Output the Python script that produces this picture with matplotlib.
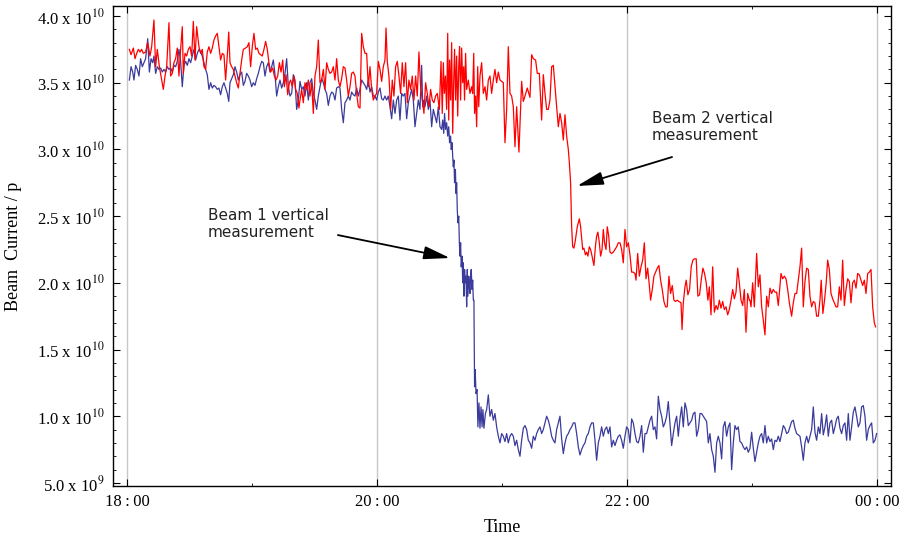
import numpy as np
import matplotlib
matplotlib.use("Agg")
import matplotlib.pyplot as plt
from matplotlib.ticker import FixedLocator, FuncFormatter

# time in minutes after 18:00, current in units of 1e10 protons
# beam 2 (red)
red_t_a = [0.9, 1.7, 2.8, 3.6, 4.4, 5.2, 6.0, 6.8, 7.6, 8.7, 9.7, 10.8, 11.6, 12.7, 13.5, 14.3,
           15.3, 16.4, 17.2, 18.0, 18.8, 19.9, 20.7, 21.5, 22.3, 23.1, 23.9, 24.7, 25.5, 26.3,
           26.8, 27.6, 28.4, 29.2, 30.0, 30.8, 31.6, 32.4, 33.2, 34.3, 35.1, 35.9, 36.7, 37.5,
           38.3, 39.1, 39.9, 40.7, 41.5, 42.3, 43.1, 43.9, 44.7, 45.5, 46.3, 47.1, 47.9, 48.6,
           49.2, 50.0, 50.8, 51.6, 52.4, 53.2, 54.0, 54.8, 55.6, 56.7, 57.5, 58.3, 59.1, 59.9,
           60.7, 61.5, 62.3, 63.1, 63.9, 64.7, 65.5, 66.3, 67.1, 67.9, 68.7, 69.7, 70.5, 71.3,
           72.1, 72.9, 73.7, 74.5, 75.3, 76.1, 76.9, 77.7, 78.3, 79.1, 79.9, 80.7, 81.5, 82.3]
red_v_a = [3.75, 3.71, 3.76, 3.68, 3.72, 3.75, 3.73, 3.75, 3.72, 3.73, 3.80, 3.70, 3.77, 3.97, 3.62, 3.75,
           3.62, 3.52, 3.45, 3.55, 3.62, 3.95, 3.55, 3.57, 3.65, 3.68, 3.76, 3.55, 3.75, 3.92,
           3.57, 3.72, 3.70, 3.75, 3.77, 3.70, 3.96, 3.67, 3.92, 3.77, 3.72, 3.75, 3.62, 3.60,
           3.73, 3.77, 3.72, 3.76, 3.82, 3.85, 3.87, 3.77, 3.67, 3.72, 3.71, 3.52, 3.70, 3.88,
           3.65, 3.62, 3.60, 3.55, 3.50, 3.46, 3.57, 3.67, 3.75, 3.76, 3.77, 3.80, 3.62, 3.77,
           3.87, 3.75, 3.76, 3.72, 3.71, 3.70, 3.75, 3.81, 3.75, 3.65, 3.58, 3.61, 3.55, 3.52,
           3.55, 3.65, 3.58, 3.67, 3.47, 3.56, 3.41, 3.50, 3.52, 3.47, 3.55, 3.45, 3.42, 3.31]

red_t_b = [82.8, 83.6, 84.4, 85.2, 86.0, 86.8, 87.6, 88.4, 89.2, 90.0, 90.8, 91.6, 92.4, 93.2,
           94.0, 94.8, 95.6, 96.4, 97.2, 98.0, 98.8, 99.6, 100.4, 101.2, 102.0, 102.8, 103.6,
           104.4, 105.2, 106.0, 106.8, 107.6, 108.4, 109.2, 110.0, 110.8, 111.6, 112.4, 113.2,
           114.0, 114.8, 115.6, 116.4, 117.2, 118.0, 118.8, 119.6, 120.4, 121.2, 122.0, 122.8,
           123.6, 124.1, 124.7, 125.5, 126.3, 127.1, 127.9, 128.7, 129.5, 130.3, 131.1, 131.9,
           132.7, 133.5, 134.3, 135.1, 135.9, 136.7, 137.5, 138.3, 139.1, 139.9, 140.7, 141.5,
           142.3, 143.1, 143.9, 144.7, 145.5, 146.3, 147.1, 147.9, 148.7, 149.7, 150.5, 151.1,
           151.6, 152.1, 152.6, 153.2, 153.7, 154.2, 154.6, 155.1, 155.6, 156.1, 156.6, 157.0,
           157.5, 158.0, 158.5, 159.0, 159.4, 159.9, 160.4, 160.9, 161.4, 161.8, 162.3, 162.8,
           163.6, 164.4, 165.2, 165.7, 166.2, 166.6, 167.1, 167.6, 168.1, 168.6, 169.2, 170.0,
           170.8, 171.6, 172.4, 173.2, 174.0, 174.8, 175.6, 176.4, 177.2, 178.0]
red_v_b = [3.37, 3.45, 3.35, 3.50, 3.45, 3.52, 3.40, 3.50, 3.27, 3.55, 3.62, 3.82, 3.50, 3.52,
           3.60, 3.45, 3.65, 3.60, 3.57, 3.58, 3.62, 3.52, 3.68, 3.52, 3.47, 3.53, 3.62,
           3.61, 3.52, 3.40, 3.47, 3.57, 3.58, 3.55, 3.42, 3.32, 3.31, 3.87, 3.77,
           3.72, 3.72, 3.47, 3.62, 3.45, 3.37, 3.40, 3.42, 3.66, 3.60, 3.51, 3.62,
           3.67, 3.91, 3.66, 3.55, 3.30, 3.52, 3.40, 3.62, 3.66, 3.55, 3.42, 3.65,
           3.47, 3.65, 3.35, 3.52, 3.45, 3.55, 3.37, 3.55, 3.40, 3.73, 3.47, 3.37,
           3.27, 3.50, 3.42, 3.32, 3.45, 3.37, 3.35, 3.40, 3.42, 3.30, 3.66, 3.27,
           3.65, 3.42, 3.55, 3.30, 3.87, 3.22, 3.67, 3.37, 3.80, 3.12, 3.52, 3.75,
           3.37, 3.70, 3.25, 3.62, 3.77, 3.37, 3.76, 3.50, 3.62, 3.37, 3.72, 3.45,
           3.52, 3.42, 3.47, 3.42, 3.72, 3.27, 3.40, 3.17, 3.62, 3.32, 3.55, 3.65,
           3.42, 3.47, 3.37, 3.52, 3.55, 3.42, 3.52, 3.60, 3.50, 3.58]

red_t_c = [178.8, 179.6, 180.4, 181.2, 182.0, 182.8, 183.6, 184.4, 185.2, 186.0, 186.8, 187.9,
           189.2, 190.0, 190.8, 191.9, 193.2, 194.0, 194.8, 195.9, 196.7, 197.7, 198.8, 199.6,
           200.4, 201.2, 202.0, 202.8, 203.6, 204.4, 205.2, 206.0, 206.8, 207.6, 208.4, 209.2,
           210.0, 210.8, 211.6, 212.1, 212.7, 213.2, 213.7, 214.3, 215.0, 215.9, 216.9, 217.5,
           218.5, 219.1, 219.8, 220.4, 221.0, 221.7, 222.3, 223.0, 223.9, 224.6, 225.2, 225.8,
           226.5, 227.1, 227.8, 228.4, 229.0, 229.7, 230.3, 231.0, 231.6, 232.4, 233.2, 234.0,
           234.8, 235.6]
red_v_c = [3.52, 3.51, 3.50, 3.05, 3.30, 3.77, 3.42, 3.40, 3.32, 3.02, 3.32, 2.98,
           3.51, 3.36, 3.40, 3.46, 3.39, 3.71, 3.68, 3.67, 3.57, 3.57, 3.22, 3.56,
           3.42, 3.30, 3.30, 3.37, 3.62, 3.63, 3.47, 3.32, 3.17, 3.27, 3.20, 3.07,
           3.26, 3.10, 3.00, 2.90, 2.75, 2.42, 2.27, 2.26, 2.32, 2.42, 2.48, 2.42,
           2.25, 2.26, 2.21, 2.23, 2.20, 2.27, 2.25, 2.20, 2.13, 2.27, 2.35, 2.38,
           2.30, 2.20, 2.25, 2.40, 2.30, 2.25, 2.42, 2.35, 2.23, 2.22, 2.23, 2.25,
           2.27, 2.30]

red_t_d = [236.4, 237.2, 238.0, 238.8, 239.6, 240.4, 241.2, 242.0, 242.8, 243.6, 244.1, 244.9,
           245.7, 246.5, 247.3, 248.1, 248.9, 249.7, 250.5, 251.1, 251.9, 252.7, 253.5, 254.3,
           255.1, 255.9, 256.7, 257.5, 258.3, 259.1, 259.9, 260.7, 261.5, 262.3, 263.1, 263.9,
           264.7, 265.7, 266.2, 266.8, 267.6, 268.2, 269.0, 269.8, 270.6, 271.4, 272.2, 273.0,
           273.8, 274.6, 275.4, 276.2, 277.0, 277.8, 278.6, 279.3, 280.1, 280.9, 281.7, 282.5,
           283.3, 284.1, 284.9, 285.7, 286.5, 287.3, 288.1, 288.9, 289.7, 290.5, 291.3, 292.1,
           292.9, 293.7, 294.5, 295.3, 296.1, 296.9, 297.7, 298.5]
red_v_d = [2.30, 2.25, 2.15, 2.40, 2.27, 2.30, 2.21, 2.08, 2.08, 2.07, 2.02, 2.22,
           2.05, 2.12, 2.17, 2.30, 2.03, 2.11, 1.98, 1.87, 1.95, 2.05, 2.08, 2.11,
           2.13, 2.02, 1.95, 1.86, 1.82, 1.82, 2.05, 1.92, 1.98, 1.87, 1.86, 1.87,
           1.86, 1.85, 1.65, 1.85, 1.97, 2.02, 1.91, 1.95, 2.12, 2.17, 2.18, 2.18,
           1.90, 1.91, 2.02, 2.11, 2.07, 2.00, 1.87, 1.97, 1.76, 2.12, 1.78, 1.83,
           1.80, 1.87, 1.81, 1.86, 1.80, 1.82, 1.76, 1.80, 1.87, 1.95, 1.88, 1.93,
           2.11, 2.00, 1.87, 1.83, 1.95, 1.63, 1.92, 1.87]

red_t_e = [298.8, 299.3, 300.1, 300.9, 302.0, 302.8, 303.6, 304.4, 305.2, 306.0, 306.8, 307.6,
           308.4, 309.2, 310.0, 310.8, 311.6, 312.4, 313.7, 314.5, 315.3, 316.1, 316.9, 317.7,
           318.8, 319.6, 320.4, 321.2, 322.0, 322.8, 323.6, 324.4, 325.2, 326.0, 326.8, 327.6,
           328.4, 329.2, 330.0, 330.8, 331.6, 332.4, 333.0, 333.8, 334.6, 335.4, 336.1, 336.9,
           337.7, 338.5, 339.3, 340.1, 340.9, 341.7, 342.5, 343.3, 344.1, 344.9, 345.7, 346.5,
           347.3, 348.1, 348.9, 349.7, 350.5, 351.3, 352.1, 352.9, 353.7, 354.5, 355.3, 356.1,
           356.9, 357.7, 358.5, 359.1]
red_v_e = [1.87, 1.82, 2.00, 1.82, 2.22, 1.97, 2.06, 1.82, 1.72, 1.61, 1.90, 1.82,
           1.96, 1.92, 1.95, 1.93, 1.93, 1.83, 2.07, 2.03, 2.05, 2.03, 1.95, 1.85,
           1.75, 1.85, 1.92, 1.92, 2.02, 2.12, 2.26, 1.82, 2.01, 2.11, 2.10, 1.90,
           1.82, 1.86, 1.85, 1.75, 1.75, 1.87, 2.02, 1.77, 1.87, 2.00, 2.17, 2.10,
           1.92, 1.88, 1.85, 1.82, 1.82, 1.97, 1.87, 2.17, 1.83, 1.95, 2.03, 2.01,
           1.85, 2.00, 2.02, 1.96, 2.07, 2.06, 2.02, 1.98, 2.02, 1.92, 2.07, 2.08,
           2.10, 1.82, 1.70, 1.67]

# beam 1 (blue)
blue_t_a = [0.9, 1.7, 2.5, 3.1, 3.9, 4.7, 5.5, 6.3, 7.1, 7.9, 8.7, 9.7, 10.5, 11.3, 12.1, 12.7,
            13.5, 14.3, 15.1, 15.9, 16.7, 17.5, 18.3, 19.1, 19.9, 20.7, 21.5, 22.3, 23.1, 23.9,
            24.7, 25.5, 26.3, 27.1, 27.9, 28.7, 29.5, 30.3, 31.1, 31.9, 32.7, 33.5, 34.3, 35.1,
            35.9, 36.7, 37.5, 38.3, 39.1, 39.9, 40.7, 41.5, 42.3, 43.1, 43.9, 44.7, 45.5, 46.3,
            47.1, 47.9, 48.6, 49.2, 50.0, 50.8, 51.6, 52.4, 53.2, 54.0, 54.8, 55.6, 56.4, 57.2,
            58.0, 58.8, 59.6, 60.4, 61.2, 62.0, 62.8, 63.6, 64.4, 65.2, 66.0, 66.8, 67.6, 68.4,
            69.2, 70.0, 70.8, 71.6, 72.4, 73.2, 74.0, 74.8, 75.6, 76.4, 77.2, 78.0, 78.8, 79.6,
            80.4, 81.2, 82.0]
blue_v_a = [3.52, 3.62, 3.58, 3.52, 3.63, 3.60, 3.55, 3.68, 3.62, 3.65, 3.68, 3.83, 3.58, 3.68, 3.65, 3.70,
            3.57, 3.62, 3.60, 3.61, 3.58, 3.60, 3.58, 3.62, 3.60, 3.61, 3.58, 3.63, 3.62, 3.66,
            3.75, 3.66, 3.47, 3.63, 3.66, 3.63, 3.68, 3.65, 3.70, 3.75, 3.67, 3.72, 3.75, 3.73,
            3.70, 3.65, 3.60, 3.56, 3.45, 3.50, 3.46, 3.48, 3.47, 3.45, 3.46, 3.41, 3.47, 3.50,
            3.46, 3.42, 3.36, 3.50, 3.53, 3.56, 3.62, 3.58, 3.52, 3.56, 3.58, 3.48, 3.51, 3.57,
            3.55, 3.52, 3.47, 3.50, 3.48, 3.53, 3.57, 3.62, 3.66, 3.65, 3.55, 3.62, 3.65, 3.58,
            3.62, 3.67, 3.56, 3.40, 3.47, 3.52, 3.46, 3.50, 3.57, 3.68, 3.47, 3.40, 3.42, 3.56,
            3.52, 3.30, 3.37]

blue_t_b = [82.8, 83.6, 84.4, 85.2, 86.0, 86.8, 87.6, 88.4, 89.2, 90.0, 90.8, 91.6, 92.4, 93.2,
            94.0, 94.8, 95.6, 96.4, 97.2, 98.0, 98.8, 99.6, 100.4, 101.2, 102.0, 102.8, 103.6,
            104.4, 105.2, 106.0, 106.8, 107.6, 108.4, 109.2, 110.0, 110.8, 111.6, 112.4, 113.2,
            114.0, 114.8, 115.6, 116.4, 117.2, 118.0, 118.8, 119.6, 120.4, 121.2, 122.0, 122.8,
            123.6, 124.4, 125.2, 126.0, 126.8, 127.6, 128.4, 129.2, 130.0, 130.8, 131.6, 132.4,
            133.2, 134.0, 134.8, 135.6, 136.4, 137.2, 138.0, 138.8, 139.6, 140.4, 141.2, 141.7,
            142.3]
blue_v_b = [3.51, 3.45, 3.47, 3.40, 3.50, 3.37, 3.50, 3.53, 3.42, 3.37, 3.30, 3.40, 3.47, 3.53,
            3.50, 3.45, 3.42, 3.33, 3.40, 3.43, 3.42, 3.37, 3.46, 3.47, 3.46, 3.30, 3.20,
            3.35, 3.37, 3.40, 3.37, 3.43, 3.41, 3.40, 3.46, 3.40, 3.45, 3.52, 3.50,
            3.48, 3.45, 3.52, 3.43, 3.47, 3.40, 3.40, 3.37, 3.43, 3.46, 3.38, 3.37,
            3.40, 3.37, 3.40, 3.32, 3.23, 3.37, 3.27, 3.37, 3.40, 3.22, 3.42, 3.40,
            3.42, 3.23, 3.35, 3.40, 3.45, 3.37, 3.17, 3.27, 3.37, 3.30, 3.63, 3.32,
            3.37]

# the steep loss of beam 1
blue_t_c = [142.8, 143.6, 144.4, 145.2, 146.0, 146.8, 147.6, 148.4, 149.2, 150.0, 150.8, 151.3,
            151.8, 152.2, 152.7, 153.2, 153.7, 154.2, 154.6, 155.1, 155.4, 155.8, 156.1, 156.4,
            156.7, 157.0, 157.4, 157.7, 158.0, 158.3, 158.6, 159.0, 159.3, 159.6, 159.9, 160.2,
            160.6, 160.9, 161.2, 161.5, 161.8, 162.2, 162.5, 162.8, 163.1, 163.4, 163.8, 164.1,
            164.4, 164.7, 165.0, 165.4, 165.7, 166.0, 166.3, 166.5, 166.6, 166.9, 167.3, 167.8,
            168.2, 168.7, 169.2, 169.7, 170.2, 170.6, 171.1, 171.8, 172.4, 173.2, 174.0, 174.8,
            175.6, 176.4, 177.2]
blue_v_c = [3.32, 3.40, 3.30, 3.37, 3.17, 3.30, 3.25, 3.20, 3.32, 3.17, 3.15, 3.22,
            3.12, 3.27, 3.15, 3.20, 3.10, 3.17, 3.05, 3.10, 3.00, 3.05, 2.95, 2.87,
            2.92, 2.75, 2.85, 2.67, 2.75, 2.55, 2.45, 2.50, 2.30, 2.20, 2.30, 2.12,
            2.20, 2.00, 2.15, 1.90, 2.10, 2.00, 2.05, 1.82, 2.10, 1.90, 2.05, 1.97,
            1.92, 2.05, 2.10, 1.95, 2.02, 1.87, 1.87, 1.45, 1.22, 1.35, 1.17, 1.20,
            0.92, 1.10, 0.91, 1.07, 0.92, 1.05, 0.91, 1.02, 1.05, 1.16, 1.00, 1.05,
            0.97, 1.02, 0.92]

blue_t_d = [178.0, 178.8, 179.6, 180.4, 181.2, 182.0, 182.8, 183.6, 184.4, 185.2, 186.0, 186.8,
            187.6, 188.4, 189.2, 190.0, 190.8, 191.6, 192.4, 193.2, 194.0, 194.8, 195.6, 196.4,
            197.2, 198.0, 198.8, 199.6, 200.4, 201.2, 202.0, 202.8, 203.6, 204.4, 205.2, 206.0,
            206.8, 207.6, 208.4, 209.2, 210.0, 210.8, 211.6, 212.4, 213.2, 214.0, 214.8, 215.6,
            216.4, 217.2, 218.0, 218.8, 219.6, 220.4, 221.2, 222.0, 222.8, 223.6, 224.4, 225.2,
            226.0, 226.8]
blue_v_d = [0.85, 0.80, 0.87, 0.85, 0.81, 0.87, 0.80, 0.85, 0.87, 0.85, 0.78, 0.82,
            0.75, 0.70, 0.82, 0.91, 0.93, 0.90, 0.82, 0.80, 0.76, 0.85, 0.82, 0.87,
            0.90, 0.92, 0.87, 0.90, 0.95, 1.00, 0.97, 0.92, 0.85, 0.82, 0.80, 0.90,
            0.95, 1.00, 0.83, 0.72, 0.80, 0.85, 0.87, 0.90, 0.92, 0.95, 0.95, 0.87,
            0.77, 0.71, 0.75, 0.78, 0.80, 0.85, 0.87, 0.92, 0.95, 0.95, 0.82, 0.67,
            0.80, 0.85]

blue_t_e = [227.6, 228.4, 229.2, 230.0, 230.8, 231.6, 232.4, 233.2, 234.0, 234.8, 235.6, 236.4,
            237.2, 238.0, 238.8, 239.6, 240.4, 241.2, 242.0, 242.8, 243.6, 244.4, 245.2, 246.0,
            246.8, 247.6, 248.4, 249.2, 250.0, 250.8, 251.6, 252.4, 253.2, 254.0, 254.8, 255.6,
            256.4, 257.2, 258.0, 258.8, 259.6, 260.4, 261.2, 262.0, 262.8, 263.6, 264.4, 265.2,
            266.0, 266.8, 267.6, 268.4, 269.2, 270.0, 270.8, 271.6, 272.4, 273.2, 274.0, 274.8,
            275.6, 276.4, 277.2, 278.0, 278.8, 279.6, 280.4, 281.2, 282.0, 282.8, 283.6, 284.4,
            285.2, 286.0, 286.8, 287.6, 288.4, 289.2, 290.0, 290.8, 291.6, 292.4, 293.2, 294.0]
blue_v_e = [0.92, 0.85, 0.90, 0.92, 0.87, 0.92, 0.77, 0.82, 0.78, 0.82, 0.85, 0.86,
            0.82, 0.76, 0.85, 0.92, 0.90, 0.80, 0.98, 0.95, 0.87, 0.81, 0.80, 0.85,
            0.93, 0.73, 0.87, 0.87, 0.92, 0.97, 1.00, 0.90, 0.92, 0.83, 1.15, 1.05,
            1.00, 0.92, 0.95, 1.00, 1.11, 0.95, 0.78, 0.87, 0.95, 1.00, 0.85, 0.98,
            1.07, 0.92, 1.10, 1.05, 0.93, 0.95, 0.97, 1.02, 1.03, 0.85, 0.90, 1.02,
            1.02, 1.00, 0.98, 0.96, 0.80, 0.87, 0.75, 0.70, 0.58, 0.80, 0.85, 0.80,
            0.68, 0.92, 0.96, 0.85, 0.92, 0.95, 0.60, 0.80, 0.93, 0.90, 0.92, 0.81]

blue_t_f = [294.8, 295.6, 296.4, 297.2, 298.0, 298.8, 299.6, 300.4, 301.2, 302.0, 302.8, 303.6,
            304.4, 305.2, 306.0, 306.8, 307.6, 308.4, 309.2, 310.0, 310.8, 311.6, 312.4, 313.2,
            314.0, 314.8, 315.6, 316.4, 317.2, 318.0, 318.8, 319.6, 320.4, 321.2, 322.0, 322.8,
            323.6, 324.4, 325.2, 326.0, 326.8, 327.6, 328.4, 329.2, 330.0, 330.8, 331.6, 332.4,
            333.2, 334.0, 334.8, 335.6, 336.4, 337.2, 338.0, 338.8, 339.6, 340.4, 341.2, 342.0,
            342.8, 343.6, 344.4, 345.2, 346.0, 346.8, 347.6, 348.4, 349.2, 350.0, 350.8, 351.6,
            352.4, 353.2, 354.0, 354.8, 355.6, 356.4, 357.2, 358.0, 358.8, 359.6]
blue_v_f = [0.80, 0.77, 0.75, 0.77, 0.73, 0.76, 0.88, 0.76, 0.66, 0.73, 0.80, 0.85,
            0.87, 0.80, 0.93, 0.80, 0.85, 0.81, 0.83, 0.75, 0.82, 0.81, 0.85, 0.81,
            0.87, 0.93, 0.91, 0.87, 0.88, 0.92, 0.96, 0.97, 0.91, 0.87, 0.86, 0.85,
            0.77, 0.67, 0.80, 0.85, 0.80, 0.85, 0.90, 1.07, 0.88, 0.82, 0.92, 0.87,
            1.02, 0.86, 0.92, 1.01, 0.85, 0.95, 0.97, 0.87, 0.92, 0.98, 1.00, 0.91,
            0.87, 0.93, 0.95, 0.82, 1.02, 0.82, 0.92, 1.03, 1.07, 1.00, 0.92, 0.95,
            1.07, 1.08, 1.00, 0.82, 0.90, 0.93, 0.95, 0.80, 0.82, 0.87]

hour_ticks = [0, 120, 240, 360]
hour_labels = ["18\u2009:\u200900", "20\u2009:\u200900", "22\u2009:\u200900", "00\u2009:\u200900"]

red_t = np.concatenate([red_t_a, red_t_b, red_t_c, red_t_d, red_t_e])
red_v = np.concatenate([red_v_a, red_v_b, red_v_c, red_v_d, red_v_e]) * 1e10
blue_t = np.concatenate([blue_t_a, blue_t_b, blue_t_c, blue_t_d, blue_t_e, blue_t_f])
blue_v = np.concatenate([blue_v_a, blue_v_b, blue_v_c, blue_v_d, blue_v_e, blue_v_f]) * 1e10

plt.rcParams['mathtext.fontset'] = 'stix'
serif = ['Liberation Serif', 'DejaVu Serif']

fig = plt.figure(figsize=(9.01, 5.39), dpi=100)
ax = fig.add_axes([113 / 901, 53 / 539, 778 / 901, 480 / 539])

ax.plot(blue_t, blue_v, color='#3b3b9c', lw=0.9)
ax.plot(red_t, red_v, color='#ff0000', lw=0.9)

ax.set_xlim(-6.96, 366.5)
ax.set_ylim(0.477e10, 4.075e10)

ax.xaxis.set_major_locator(FixedLocator(hour_ticks))
ax.xaxis.set_minor_locator(FixedLocator([60, 180, 300]))
ax.set_xticklabels(hour_labels, fontfamily=serif, fontsize=12)
ax.yaxis.set_major_locator(FixedLocator([k * 0.5e10 for k in range(1, 9)]))
ax.yaxis.set_minor_locator(FixedLocator([k * 0.1e10 for k in range(5, 41)]))


def sci(v, pos):
    if v <= 0:
        return ""
    e = int(np.floor(np.log10(v) + 1e-9))
    return r"%.1f x 10$^{%d}$" % (v / 10 ** e, e)


ax.yaxis.set_major_formatter(FuncFormatter(sci))
for lab in ax.get_yticklabels():
    lab.set_fontfamily(serif)
    lab.set_fontsize(12)

ax.tick_params(which='both', direction='in', top=True, right=True)
ax.tick_params(which='major', length=5, width=0.8, pad=6)
ax.tick_params(which='minor', length=2.5, width=0.6)
ax.grid(axis='x', which='major', color='#c8c8c8', lw=1)
for s in ax.spines.values():
    s.set_linewidth(1.0)

ax.set_xlabel("Time", fontfamily=serif, fontsize=13)
ax.xaxis.set_label_coords(0.5, -0.068)
ax.set_ylabel("Beam  Current / p", fontfamily=serif, fontsize=13)
ax.yaxis.set_label_coords(-0.117, 0.5)

arrow = dict(arrowstyle='-|>,head_length=0.8,head_width=0.2', color='black',
             lw=1.3, shrinkA=0, shrinkB=0, mutation_scale=20)
ax.annotate('', xy=(154.8, 2.186e10), xytext=(101.0, 2.358e10), arrowprops=arrow)
ax.annotate('', xy=(215.8, 2.726e10), xytext=(261.4, 2.943e10), arrowprops=arrow)
ax.text(38.6, 2.56e10, "Beam 1 vertical\nmeasurement", fontsize=11, va='top', ha='left',
        color='#222222', linespacing=1.15)
ax.text(251.8, 3.29e10, "Beam 2 vertical\nmeasurement", fontsize=11, va='top', ha='left',
        color='#222222', linespacing=1.15)

fig.savefig("out.png", dpi=100)
